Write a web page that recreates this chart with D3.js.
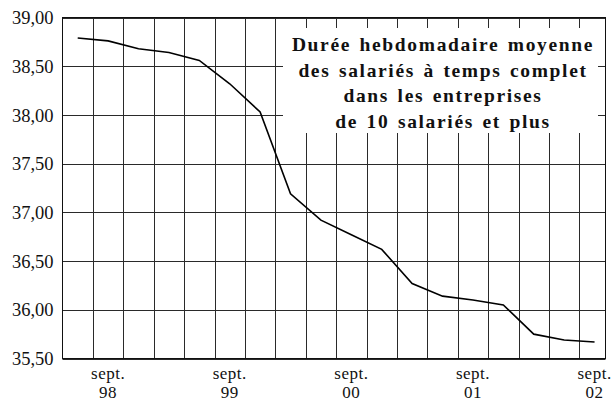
<script src="https://d3js.org/d3.v7.min.js"></script>
<style>
  body { margin: 0; background: #fff; }
  text { font-family: "Times New Roman", "Liberation Serif", Times, serif; fill: #111; }
</style>
<svg width="611" height="403"></svg>
<script>
  // trimestres, de juin 98 a sept. 02
  var periodes = ["98-06", "98-09", "98-12", "99-03", "99-06", "99-09", "99-12", "00-03", "00-06",
    "00-09", "00-12", "01-03", "01-06", "01-09", "01-12", "02-03", "02-06", "02-09"];
  var duree = [38.79, 38.76, 38.68, 38.64, 38.56, 38.32, 38.03, 37.19, 36.92,
    36.77, 36.62, 36.27, 36.14, 36.10, 36.05, 35.75, 35.69, 35.67];
  var yTicks = [35.5, 36, 36.5, 37, 37.5, 38, 38.5, 39];
  var sept = [1, 5, 9, 13, 17];
  var septLabels = ["98", "99", "00", "01", "02"];
  var titre = ["Durée hebdomadaire moyenne", "des salariés à temps complet",
    "dans les entreprises", "de 10 salariés et plus"];

  var svg = d3.select("svg"),
    pLeft = 62.5, pRight = 605.5, pTop = 17.5, pBottom = 358.5;

  var x = d3.scaleLinear().domain([-0.5, 17.36]).range([pLeft, pRight]),
    y = d3.scaleLinear().domain([35.5, 39]).range([pBottom, pTop]);

  var fmt = function (d) { return d3.format(".2f")(d).replace(".", ","); };

  // grille
  svg.append("g")
    .selectAll("line")
    .data(d3.range(0.5, 17, 1))
    .enter().append("line")
    .attr("x1", function (d) { return Math.round(x(d)) + 0.5; })
    .attr("x2", function (d) { return Math.round(x(d)) + 0.5; })
    .attr("y1", pTop).attr("y2", pBottom)
    .attr("stroke", "#2a2a2a").attr("stroke-width", 1);

  svg.append("g")
    .selectAll("line")
    .data(yTicks)
    .enter().append("line")
    .attr("x1", pLeft).attr("x2", pRight)
    .attr("y1", function (d) { return Math.round(y(d)) + 0.5; })
    .attr("y2", function (d) { return Math.round(y(d)) + 0.5; })
    .attr("stroke", "#2a2a2a").attr("stroke-width", 1);

  svg.append("rect")
    .attr("x", pLeft).attr("y", pTop)
    .attr("width", pRight - pLeft).attr("height", pBottom - pTop)
    .attr("fill", "none").attr("stroke", "#111").attr("stroke-width", 1);

  // axe y
  svg.append("g")
    .selectAll("text")
    .data(yTicks)
    .enter().append("text")
    .attr("x", pLeft - 9)
    .attr("y", function (d) { return y(d); })
    .attr("dy", "0.36em")
    .attr("text-anchor", "end")
    .style("font-size", "18.5px")
    .text(fmt);

  // axe x
  var xl = svg.append("g")
    .selectAll("text")
    .data(sept)
    .enter().append("text")
    .attr("text-anchor", "middle")
    .style("font-size", "17px")
    .style("letter-spacing", "0.5px")
    .attr("transform", function (d) { return "translate(" + x(d) + ",378.5)"; });
  xl.append("tspan").attr("x", 0).text("sept.");
  xl.append("tspan").attr("x", 0).attr("dy", 19).text(function (d, i) { return septLabels[i]; });

  // cadre du titre
  svg.append("rect")
    .attr("x", 283).attr("y", 28)
    .attr("width", 315).attr("height", 105)
    .attr("fill", "#fff");

  svg.append("g")
    .selectAll("text")
    .data(titre)
    .enter().append("text")
    .attr("x", 443)
    .attr("y", function (d, i) { return 51 + i * 25.7; })
    .attr("text-anchor", "middle")
    .style("font-size", "19.5px")
    .style("font-weight", "bold")
    .style("letter-spacing", "1.65px")
    .style("word-spacing", "2px")
    .text(function (d) { return d; });

  // courbe
  var line = d3.line()
    .x(function (d, i) { return x(i); })
    .y(function (d) { return y(d); });

  svg.append("path")
    .datum(duree)
    .attr("d", line)
    .attr("fill", "none")
    .attr("stroke", "#000")
    .attr("stroke-width", 1.6);
</script>
